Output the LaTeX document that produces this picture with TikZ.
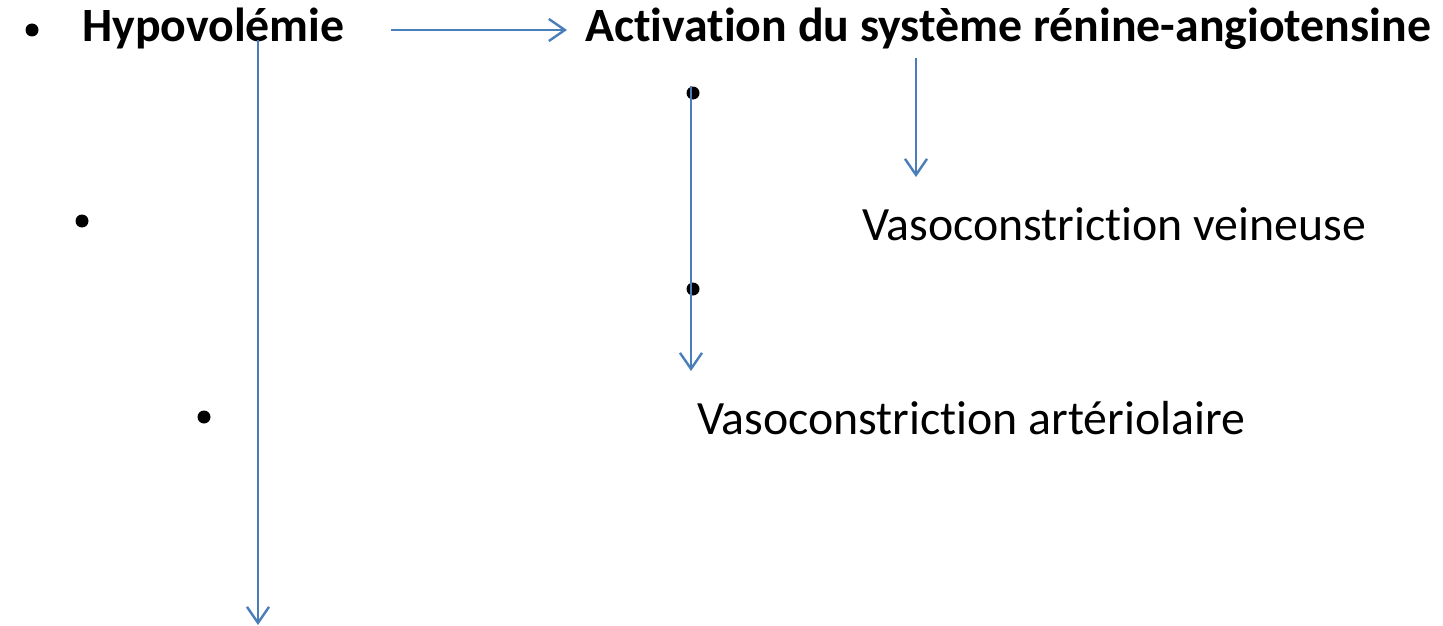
\documentclass[tikz,border=0pt]{standalone}
\usepackage{fontspec}
\setmainfont{Carlito}[Ligatures={NoCommon,NoContextual,NoRequired},Contextuals=NoAlternate]
\usetikzlibrary{arrows.meta}
\definecolor{arrowblue}{HTML}{4A7EBB}
\newcommand{\nolig}{\kern0pt{}}
\tikzset{
  conn/.style={draw=arrowblue, line width=2.4pt, -{Straight Barb[length=16pt,width=22pt,line width=2.4pt]}},
  bul/.style={circle, fill=black, inner sep=0pt, minimum size=13pt},
  txt/.style={anchor=base west, inner sep=0pt, font=\fontsize{47.8}{56}\selectfont},
  btxt/.style={txt, font=\fontsize{47.8}{56}\selectfont\bfseries}
}
\begin{document}
\begin{tikzpicture}[x=1pt,y=-1pt]
\useasboundingbox (0,0) rectangle (1443,626);
% bullets
\node[bul] (b1) at (32,30) {};
\node[bul] (b2) at (82,221) {};
\node[bul] (b3) at (204,417) {};
\node[bul] (b4) at (693,93) {};
\node[bul] (b5) at (693,289) {};
% texts
\node[btxt] (hyp) at (82,42) {Hypovolémie};
\node[btxt] (act) at (585,42) {Activat\nolig ion du système rénine-angiotensine};
\node[txt] (ven) at (862,240) {Vasoconstrict\nolig ion veineuse};
\node[txt] (art) at (697,434) {Vasoconstrict\nolig ion artériolaire};
% connector end points
\coordinate (h1) at (391,30);
\coordinate (h2) at (567,30);
\coordinate (v1) at (258,40);
\coordinate (v2) at (258,625);
\coordinate (r1) at (916,58);
\coordinate (r2) at (916,177);
\coordinate (m1) at (691,86);
\coordinate (m2) at (691,371);
% connectors
\draw[conn] (h1) -- (h2);
\draw[conn] (v1) -- (v2);
\draw[conn] (r1) -- (r2);
\draw[conn] (m1) -- (m2);
\end{tikzpicture}
\end{document}
